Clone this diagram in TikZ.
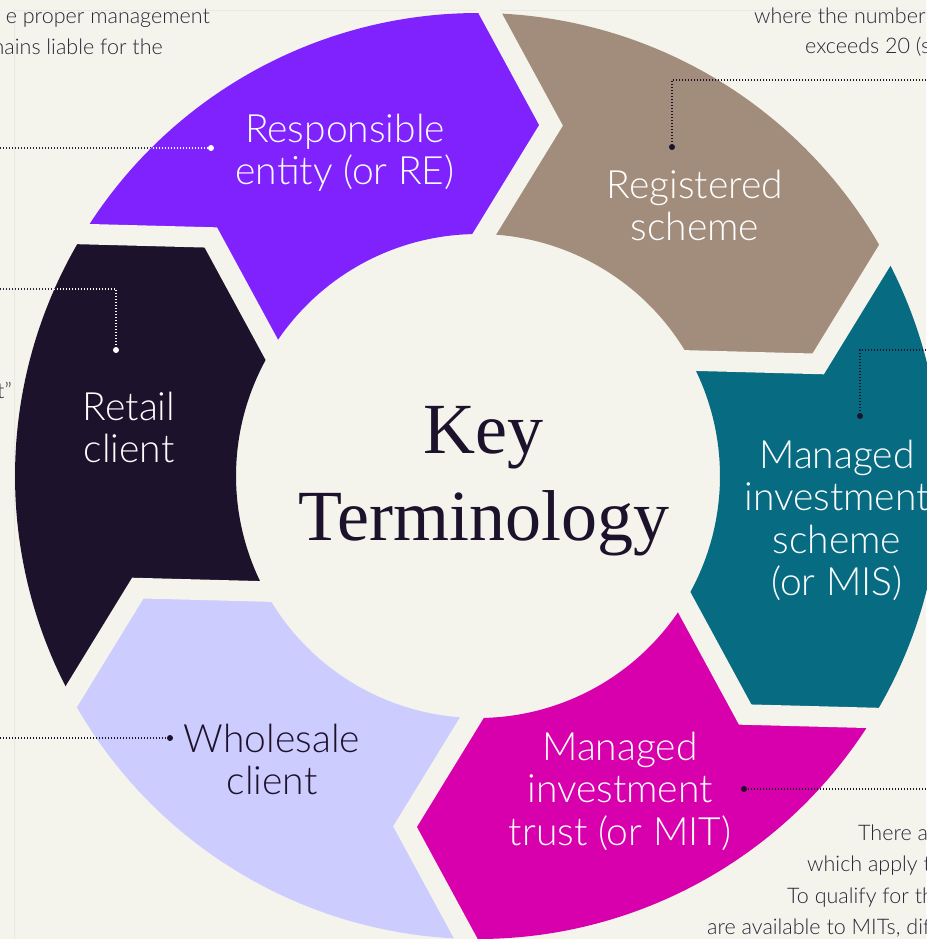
\documentclass[tikz,border=0pt]{standalone}
\usepackage{fontspec}
\newfontfamily\labfont{Lato Light}
\newfontfamily\titlefont{Liberation Serif}
\usetikzlibrary{calc}

\definecolor{paper}{RGB}{244,243,236}
\definecolor{rulecol}{RGB}{233,232,225}
\definecolor{ink}{RGB}{29,18,43}
\definecolor{bodyink}{RGB}{44,38,56}
\definecolor{rePurple}{RGB}{127,34,254}
\definecolor{regTan}{RGB}{162,141,125}
\definecolor{misTeal}{RGB}{7,108,130}
\definecolor{mitMagenta}{RGB}{216,0,173}
\definecolor{wsLavender}{RGB}{204,204,255}
\definecolor{retailInk}{RGB}{29,18,43}

% ring radii (pt) and the chevron boundary between two segments
\def\Ro{463}\def\Ri{242}
% one ring segment from boundary angle #1 (counter-clockwise side) to #2
\newcommand\segpath[2]{%
  (#1:\Ro) -- (#1-10.26:358.2) -- (#1:\Ri)
  arc[start angle=#1, end angle=#2, radius=\Ri]
  -- (#2-10.26:358.2) -- (#2:\Ro)
  arc[start angle=#2, end angle=#1, radius=\Ro] -- cycle}
% the chevron centre line, run a little past both circles
\newcommand\gapline[1]{(#1+2.01:493.3) -- (#1-10.26:358.2) -- (#1+4.67:212.7)}

\tikzset{
  ring/.style={shift={(478,476)}, yscale=-1},
  gap/.style={draw=paper, line width=20.5pt, miter limit=10, line join=miter},
  lab/.style={font=\labfont\fontsize{39}{42.5}\selectfont, align=center,
    inner sep=0pt, text=white, anchor=base},
  body/.style={font=\labfont\fontsize{21.5}{31}\selectfont, text=bodyink, inner sep=0pt},
  leader/.style={line width=1.1pt, dash pattern=on 1.1pt off 1.9pt},
  dotmark/.style={circle, fill, inner sep=0pt, minimum size=6pt},
}

\begin{document}
\begin{tikzpicture}[x=1pt, y=-1pt]
\useasboundingbox (0,0) rectangle (926,939);
\fill[paper] (0,0) rectangle (926,939);
\draw[rulecol, line width=0.8pt] (14,10) -- (14,939);
\draw[rulecol, line width=0.8pt] (14,10) -- (926,10);

% ring of six chevron segments
\begin{scope}[ring]
  \fill[rePurple]   \segpath{148.5}{88.5};
  \fill[regTan]     \segpath{88.5}{28.5};
  \fill[misTeal]    \segpath{28.5}{-31.5};
  \fill[mitMagenta] \segpath{-31.5}{-91.5};
  \fill[wsLavender] \segpath{-91.5}{-151.5};
  \fill[retailInk]  \segpath{-151.5}{-211.5};
  \foreach \b in {148.5,88.5,28.5,-31.5,-91.5,-151.5}
    \path[gap] \gapline{\b};
\end{scope}

% centre title (anchored on the baseline of its last line)
\node[font=\titlefont\fontsize{72}{87}\selectfont, text=ink, align=center,
  anchor=base, inner sep=0pt] (title) at (483.5,540) {Key\\Terminology};

% segment labels (anchored on the baseline of their last line)
\node[lab] (re)  at (345,184.5) {Responsible\\entity (or RE)};
\node[lab] (reg) at (695,240.5) {Registered\\scheme};
\node[lab] (mis) at (837,595.5) {Managed\\investment\\scheme\\(or MIS)};
\node[lab] (mit) at (620,845) {Managed\\investment\\trust (or MIT)};
\node[lab, text=ink] (ws) at (272,794.5) {Wholesale\\client};
\node[lab] (rt)  at (129,462.5) {Retail\\client};

% leader lines
\coordinate (reL) at (0,148);
\node[dotmark, white] (reDot) at (211,148) {};
\draw[leader, bodyink] (reL) -- (reDot);
\begin{scope}[ring]
  \clip \segpath{148.5}{88.5};
  \draw[leader, white] (reL) -- (reDot);
\end{scope}

\coordinate (rtL) at (0,289);
\node[dotmark, white] (rtDot) at (116,350) {};
\draw[leader, bodyink] (rtL) -| (rtDot);
\begin{scope}[ring]
  \clip \segpath{-151.5}{-211.5};
  \draw[leader, white] (rtL) -| (rtDot);
\end{scope}

\coordinate (rgR) at (926,80);
\node[dotmark, ink] (rgDot) at (672,147) {};
\draw[leader, ink] (rgR) -| (rgDot);

\coordinate (msR) at (926,350);
\node[dotmark, ink] (msDot) at (860,416) {};
\draw[leader, ink] (msR) -| (msDot);

\coordinate (mtR) at (926,789);
\node[dotmark, ink] (mtDot) at (744,789) {};
\draw[leader, ink] (mtR) -- (mtDot);

\coordinate (wsL) at (0,738);
\node[dotmark, ink] (wsDot) at (170,738) {};
\draw[leader, ink] (wsL) -- (wsDot);

% surrounding body text
\node[body, anchor=base east] (tA) at (210,24) {e proper management};
\node[body, anchor=base east] (tB) at (163,55) {nains liable for the};
\node[body, anchor=base east] (tC) at (12,398) {t”};
\node[body, anchor=base west] (tD) at (754,24) {where the number};
\node[body, anchor=base west] (tE) at (805,54) {exceeds 20 (s};
\node[body, anchor=base west] (tF) at (858,840) {There a};
\node[body, anchor=base west] (tG) at (807,871) {which apply t};
\node[body, anchor=base west] (tH) at (787,903) {To qualify for th};
\node[body, anchor=base west] (tI) at (707,934) {are available to MITs, dif};
\end{tikzpicture}
\end{document}
